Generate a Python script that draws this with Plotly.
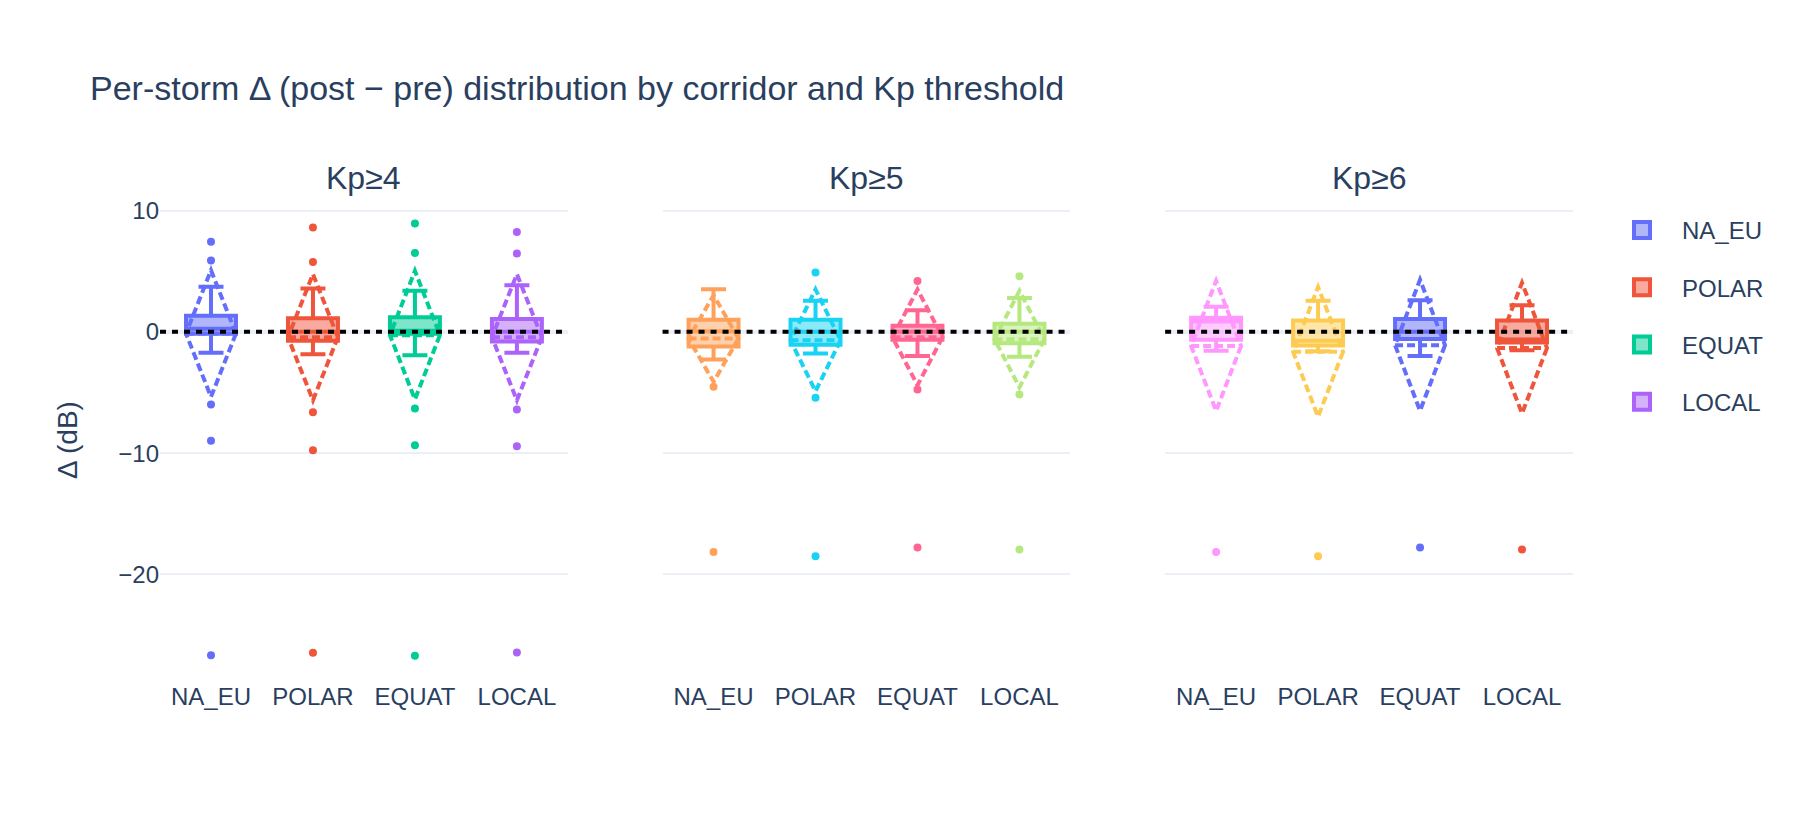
import plotly.graph_objects as go
from plotly.subplots import make_subplots

# ---------------- data ----------------
corridors = ["NA_EU", "POLAR", "EQUAT", "LOCAL"]
thresholds = ["Kp≥4", "Kp≥5", "Kp≥6"]

# Kp>=4
kp4_q1 = [-0.15, -0.74, -0.15, -0.80]
kp4_median = [0.25, 0.00, 0.10, 0.00]
kp4_q3 = [1.32, 1.13, 1.21, 1.07]
kp4_lowerfence = [-1.73, -1.84, -1.92, -1.73]
kp4_upperfence = [3.71, 3.57, 3.38, 3.85]
kp4_mean = [-0.14, -0.44, -0.27, -0.44]
kp4_sd = [5.22, 5.20, 5.30, 5.20]
kp4_outliers = [
    [7.42, 5.88, -5.99, -8.98, -26.65],
    [8.60, 5.75, -6.62, -9.75, -26.46],
    [8.93, 6.51, -6.32, -9.34, -26.70],
    [8.24, 6.46, -6.40, -9.42, -26.43],
]

# Kp>=5
kp5_q1 = [-1.20, -1.07, -0.65, -0.93]
kp5_median = [0.05, 0.00, 0.00, 0.00]
kp5_q3 = [0.99, 0.99, 0.50, 0.66]
kp5_lowerfence = [-2.28, -1.78, -2.00, -2.06]
kp5_upperfence = [3.52, 2.56, 1.79, 2.80]
kp5_mean = [-0.55, -0.70, -0.45, -0.60]
kp5_sd = [3.57, 4.20, 3.95, 3.98]
kp5_outliers = [
    [-4.53, -18.14],
    [4.90, -5.44, -18.49],
    [4.20, -4.75, -17.78],
    [4.59, -5.16, -17.94],
]

# Kp>=6
kp6_q1 = [-0.66, -1.12, -0.58, -0.87]
kp6_median = [0.85, -0.74, 0.00, -0.63]
kp6_q3 = [1.16, 0.94, 1.07, 0.94]
kp6_lowerfence = [-1.56, -1.59, -2.00, -1.51]
kp6_upperfence = [2.06, 2.56, 2.61, 2.20]
kp6_mean = [-1.16, -1.65, -1.10, -1.34]
kp6_sd = [5.36, 5.35, 5.40, 5.39]
kp6_outliers = [
    [-18.14],
    [-18.49],
    [-17.78],
    [-17.94],
]

# ---------------- styles ----------------
palette = ["#636efa", "#EF553B", "#00cc96", "#ab63fa", "#FFA15A",
           "#19d3f3", "#FF6692", "#B6E880", "#FF97FF", "#FECB52"]
FONT = "Liberation Sans"
TXT = "#2a3f5f"


def with_alpha(hex_color, a):
    h = hex_color.lstrip("#")
    r, g, b = int(h[0:2], 16), int(h[2:4], 16), int(h[4:6], 16)
    return f"rgba({r},{g},{b},{a})"


stats = [
    (kp4_q1, kp4_median, kp4_q3, kp4_lowerfence, kp4_upperfence, kp4_mean, kp4_sd, kp4_outliers),
    (kp5_q1, kp5_median, kp5_q3, kp5_lowerfence, kp5_upperfence, kp5_mean, kp5_sd, kp5_outliers),
    (kp6_q1, kp6_median, kp6_q3, kp6_lowerfence, kp6_upperfence, kp6_mean, kp6_sd, kp6_outliers),
]

fig = make_subplots(rows=1, cols=3, shared_yaxes=True,
                    horizontal_spacing=0.067, subplot_titles=thresholds)

k = 0
for t, (q1, med, q3, lf, uf, mn, sd, outs) in enumerate(stats):
    for i, c in enumerate(corridors):
        color = palette[k % len(palette)]
        k += 1
        fig.add_trace(go.Box(
            x=[c], q1=[q1[i]], median=[med[i]], q3=[q3[i]],
            lowerfence=[lf[i]], upperfence=[uf[i]], mean=[mn[i]], sd=[sd[i]],
            boxmean="sd", boxpoints=False, name=c, legendgroup=c,
            showlegend=False, line=dict(color=color, width=4),
            marker=dict(color=color),
        ), row=1, col=t + 1)
        fig.add_trace(go.Scatter(
            x=[c] * len(outs[i]), y=outs[i], mode="markers",
            marker=dict(color=color, size=8), name=c, legendgroup=c,
            showlegend=False,
        ), row=1, col=t + 1)
        if t == 0:
            # legend entry (box-style square swatch)
            fig.add_trace(go.Scatter(
                x=[None], y=[None], mode="markers", name=c, legendgroup=c,
                showlegend=True, hoverinfo="skip",
                marker=dict(symbol="square", size=16, color=with_alpha(color, 0.5),
                            line=dict(color=color, width=4)),
            ), row=1, col=1)

fig.add_hline(y=0, line=dict(color="black", width=4, dash="6px,6px"),
              row="all", col="all")

fig.update_annotations(font=dict(size=32, family=FONT, color=TXT), yshift=2)

fig.update_xaxes(type="category", categoryorder="array", categoryarray=corridors,
                 range=[-0.5, 3.5], showgrid=False, tickfont=dict(size=24))
fig.update_yaxes(range=[-28.7, 10.87], dtick=10, tick0=0, gridwidth=2,
                 zerolinewidth=4, tickfont=dict(size=24))
fig.update_yaxes(title=dict(text="Δ (dB)", font=dict(size=28), standoff=32),
                 row=1, col=1)

fig.update_layout(
    template="plotly_white",
    width=1800, height=840,
    font=dict(family=FONT, size=24, color=TXT),
    title=dict(text="Per-storm Δ (post − pre) distribution by corridor and Kp threshold",
               font=dict(size=34), x=0.05, xanchor="left",
               y=1 - 88.4 / 840, yref="container", yanchor="middle"),
    margin=dict(l=160, r=227, t=200, b=160),
    legend=dict(xref="container", x=0.89, xanchor="left",
                y=1 - 8 / 480, yanchor="top",
                itemwidth=70, tracegroupgap=23, font=dict(size=24)),
)

fig.write_html("out.html")
